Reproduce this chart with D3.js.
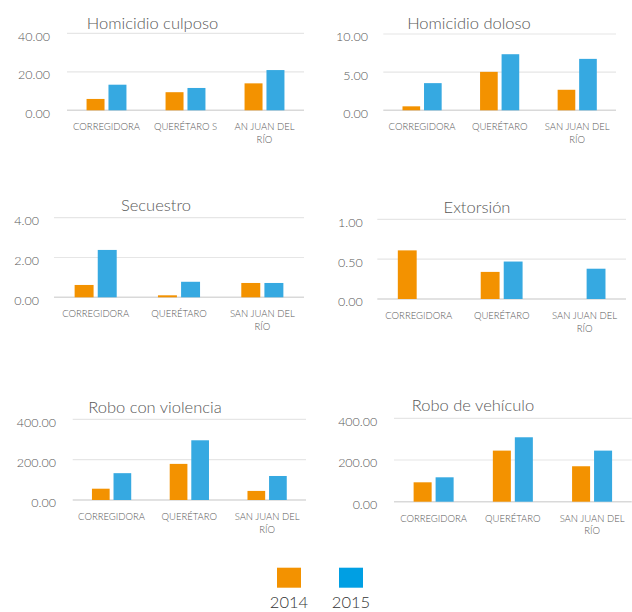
<!DOCTYPE html>
<html>
<head>
<meta charset="utf-8">
<script src="https://cdn.jsdelivr.net/npm/d3@7"></script>
<style>
  html, body { margin: 0; padding: 0; background: #fff; }
  svg { display: block; font-family: Lato, "Open Sans", sans-serif; font-weight: 300; }
</style>
</head>
<body>
<svg id="chart" width="632" height="612"></svg>
<script>
// ---------- DATA ----------
const years = ["2014", "2015"];
const categories = ["CORREGIDORA", "QUERÉTARO", "SAN JUAN DEL RÍO"];
const catLabelsFirst = [["CORREGIDORA"], ["QUERÉTARO S"], ["AN JUAN DEL", "RÍO"]];
const catLabels = [["CORREGIDORA"], ["QUERÉTARO"], ["SAN JUAN DEL", "RÍO"]];

const titles = ["Homicidio culposo", "Homicidio doloso", "Secuestro", "Extorsión", "Robo con violencia", "Robo de vehículo"];

const culposo2014 = [5.9, 9.4, 14.0];
const culposo2015 = [13.3, 11.6, 20.9];
const doloso2014 = [0.52, 5.04, 2.69];
const doloso2015 = [3.56, 7.35, 6.74];
const secuestro2014 = [0.62, 0.10, 0.72];
const secuestro2015 = [2.38, 0.78, 0.72];
const extorsion2014 = [0.61, 0.34, 0];
const extorsion2015 = [0, 0.47, 0.38];
const violencia2014 = [56, 179, 45];
const violencia2015 = [133, 296, 119];
const vehiculo2014 = [93, 245, 170];
const vehiculo2015 = [117, 309, 245];

const ticksCulposo = [0, 20, 40];
const ticksDoloso = [0, 5, 10];
const ticksSecuestro = [0, 2, 4];
const ticksExtorsion = [0, 0.5, 1];
const ticksViolencia = [0, 200, 400];
const ticksVehiculo = [0, 200, 400];

// ---------- STYLE / LAYOUT ----------
const colors = { "2014": "#f39200", "2015": "#36a9e1" };
const legendColors = { "2014": "#f39200", "2015": "#009fe3" };
const textColor = "#595959";

const panels = [
  { title: titles[0], labels: catLabelsFirst, s: [culposo2014, culposo2015], ticks: ticksCulposo,
    x0: 67, x1: 304, y0: 110.3, yTop: 33.3, labelRight: 50, titleX: 152.5, titleY: 29 },
  { title: titles[1], labels: catLabels, s: [doloso2014, doloso2015], ticks: ticksDoloso,
    x0: 383.3, x1: 616, y0: 110.3, yTop: 34, labelRight: 368, titleX: 469, titleY: 28.5 },
  { title: titles[2], labels: catLabels, s: [secuestro2014, secuestro2015], ticks: ticksSecuestro,
    x0: 54, x1: 304, y0: 297.3, yTop: 217.7, labelRight: 39, titleX: 156, titleY: 211 },
  { title: titles[3], labels: catLabels, s: [extorsion2014, extorsion2015], ticks: ticksExtorsion,
    x0: 377.3, x1: 626, y0: 299, yTop: 219.3, labelRight: 362.7, titleX: 477, titleY: 213 },
  { title: titles[4], labels: catLabels, s: [violencia2014, violencia2015], ticks: ticksViolencia,
    x0: 72.7, x1: 306, y0: 500, yTop: 419.3, labelRight: 56, titleX: 155, titleY: 413 },
  { title: titles[5], labels: catLabels, s: [vehiculo2014, vehiculo2015], ticks: ticksVehiculo,
    x0: 394, x1: 631.7, y0: 501.7, yTop: 418.3, labelRight: 377.3, titleX: 473, titleY: 411 }
];

const svg = d3.select("#chart");
const fmt = d3.format(".2f");

panels.forEach(p => {
  const g = svg.append("g");
  const x = d3.scaleBand().domain(categories).range([p.x0, p.x1]).padding(0);
  const y = d3.scaleLinear().domain([0, d3.max(p.ticks)]).range([p.y0, p.yTop]);
  const groupW = x.bandwidth() * 0.505;
  const xs = d3.scaleBand().domain(years).range([-groupW / 2, groupW / 2]).paddingInner(0.18).paddingOuter(0);

  // gridlines
  g.selectAll("line.grid").data(p.ticks).enter().append("line")
    .attr("x1", p.x0).attr("x2", p.x1)
    .attr("y1", d => y(d)).attr("y2", d => y(d))
    .attr("stroke", d => d === 0 ? "#d9d9d9" : "#e6e6e6")
    .attr("stroke-width", d => d === 0 ? 1.6 : 1.2);

  // y tick labels
  g.selectAll("text.ytick").data(p.ticks).enter().append("text")
    .attr("x", p.labelRight).attr("y", d => y(d) + 3)
    .attr("dy", "0.35em")
    .attr("text-anchor", "end")
    .attr("font-size", 12.5)
    .attr("fill", textColor)
    .text(d => fmt(d));

  // bars
  years.forEach((yr, si) => {
    g.selectAll("rect.s" + si).data(p.s[si]).enter().append("rect")
      .attr("x", (d, i) => x(categories[i]) + x.bandwidth() / 2 + xs(yr))
      .attr("width", xs.bandwidth())
      .attr("y", d => y(d))
      .attr("height", d => p.y0 - y(d))
      .attr("fill", colors[yr]);
  });

  // category labels
  categories.forEach((c, i) => {
    const t = g.append("text")
      .attr("x", x(c) + x.bandwidth() / 2)
      .attr("y", p.y0 + 20)
      .attr("text-anchor", "middle")
      .attr("font-size", 9.5)
      .attr("fill", textColor);
    p.labels[i].forEach((line, li) => {
      t.append("tspan").attr("x", x(c) + x.bandwidth() / 2).attr("dy", li === 0 ? 0 : 12.5).text(line);
    });
  });

  // title
  g.append("text")
    .attr("x", p.titleX).attr("y", p.titleY)
    .attr("text-anchor", "middle")
    .attr("font-size", 16.5)
    .attr("fill", textColor)
    .text(p.title);
});

// legend
const legX = d3.scalePoint().domain(years).range([289, 351]);
const leg = svg.append("g");
leg.selectAll("rect").data(years).enter().append("rect")
  .attr("x", d => legX(d) - 12).attr("y", 567.7)
  .attr("width", 24).attr("height", 20)
  .attr("fill", d => legendColors[d]);
leg.selectAll("text").data(years).enter().append("text")
  .attr("x", d => legX(d)).attr("y", 607.5)
  .attr("text-anchor", "middle")
  .attr("font-size", 16.5)
  .attr("fill", "#333")
  .text(d => d);
</script>
</body>
</html>
